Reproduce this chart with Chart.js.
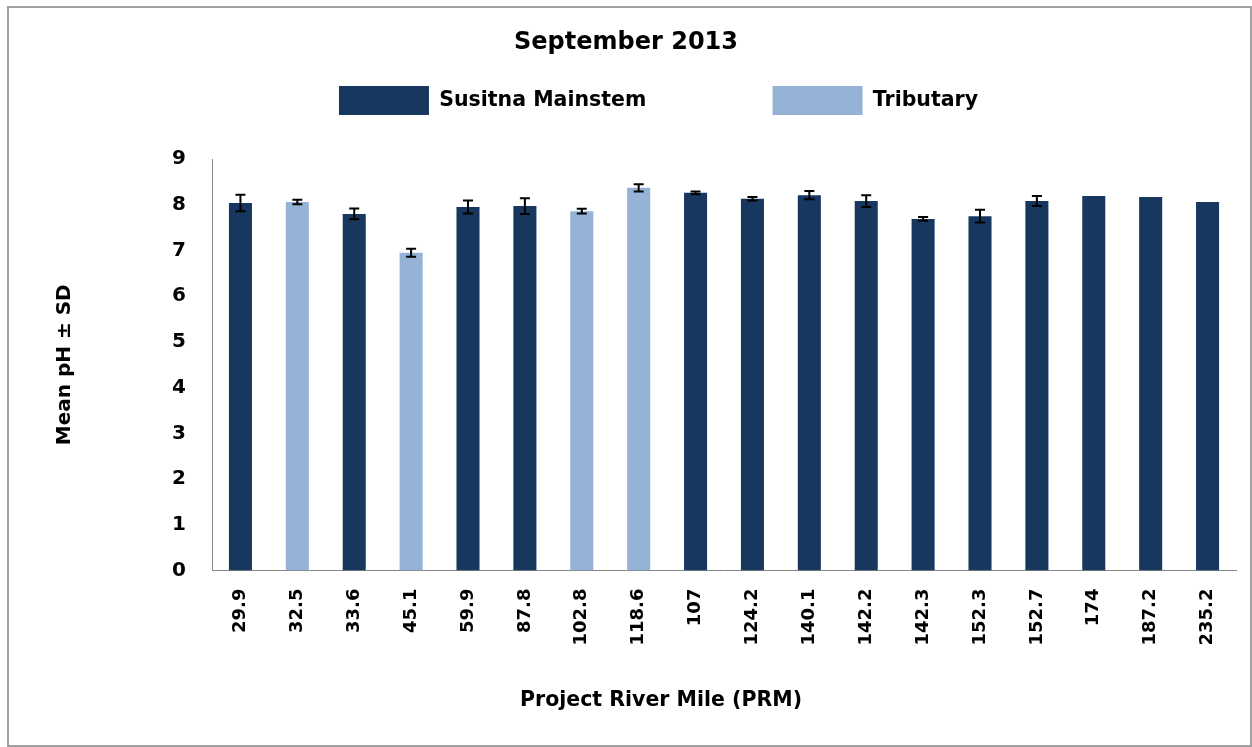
<!DOCTYPE html>
<html>
<head>
<meta charset="utf-8">
<title>September 2013 - Mean pH</title>
<script src="https://cdn.jsdelivr.net/npm/chart.js@4.4.1/dist/chart.umd.min.js"></script>
<style>
  html, body { margin: 0; padding: 0; background: #fff; }
  #wrap { position: relative; width: 1252px; height: 747px; }
  #frame { position: absolute; left: 7px; top: 6px; width: 1241px; height: 737px; border: 2px solid #a0a0a0; box-sizing: content-box; pointer-events: none; }
</style>
</head>
<body>
<div id="wrap">
  <canvas id="chart"></canvas>
  <div id="frame"></div>
</div>
<script>
// river miles, site type (M = mainstem, T = tributary), mean pH and SD
const categories = ['29.9', '32.5', '33.6', '45.1', '59.9', '87.8', '102.8', '118.6', '107',
  '124.2', '140.1', '142.2', '142.3', '152.3', '152.7', '174', '187.2', '235.2'];
const siteType = ['M', 'T', 'M', 'T', 'M', 'M', 'T', 'T', 'M',
  'M', 'M', 'M', 'M', 'M', 'M', 'M', 'M', 'M'];
const meanPh = [8.04, 8.06, 7.80, 6.95, 7.95, 7.97, 7.86, 8.37, 8.26,
  8.13, 8.21, 8.08, 7.69, 7.75, 8.08, 8.19, 8.17, 8.06];
const sdPh = [0.18, 0.05, 0.12, 0.09, 0.14, 0.17, 0.05, 0.08, 0.03,
  0.04, 0.09, 0.13, 0.04, 0.14, 0.11, null, null, null];
const seriesNames = ['Susitna Mainstem', 'Tributary'];
const yTicks = [0, 1, 2, 3, 4, 5, 6, 7, 8, 9];

const NAVY = '#17375E';
const LIGHT = '#95B3D7';
const AXIS_GREY = '#868686';
const LEGEND_SHIFT = 65;
const XTITLE_SHIFT = 70;

Chart.defaults.font.family = "'DejaVu Sans', 'Liberation Sans', sans-serif";
Chart.defaults.font.weight = 'bold';
Chart.defaults.color = '#000';

// SD whiskers, drawn from the scales
const errorBars = {
  id: 'errorBars',
  afterDatasetsDraw(chart) {
    const { ctx, scales: { x, y } } = chart;
    ctx.save();
    ctx.strokeStyle = '#000';
    ctx.lineWidth = 2;
    meanPh.forEach((m, i) => {
      const sd = sdPh[i];
      if (sd == null) return;
      const px = x.getPixelForValue(i);
      const top = y.getPixelForValue(m + sd);
      const bot = y.getPixelForValue(m - sd);
      ctx.beginPath();
      ctx.moveTo(px, top); ctx.lineTo(px, bot);
      ctx.moveTo(px - 5, top); ctx.lineTo(px + 5, top);
      ctx.moveTo(px - 5, bot); ctx.lineTo(px + 5, bot);
      ctx.stroke();
    });
    ctx.restore();
  }
};

// legend and x title sit right of the canvas centre in the original
const shiftBoxes = {
  id: 'shiftBoxes',
  afterLayout(chart) {
    if (chart.legend) chart.legend.left += LEGEND_SHIFT;
    chart.boxes.forEach(b => {
      if (b.position === 'bottom' && !b.axis && b !== chart.legend) b.left += XTITLE_SHIFT;
    });
  }
};

new Chart(document.getElementById('chart'), {
  type: 'bar',
  data: {
    labels: categories,
    datasets: [{
      label: 'Mean pH',
      data: meanPh,
      backgroundColor: siteType.map(t => t === 'M' ? NAVY : LIGHT),
      borderWidth: 0,
      categoryPercentage: 1,
      barPercentage: 0.405
    }]
  },
  options: {
    responsive: true,
    maintainAspectRatio: false,
    animation: false,
    layout: { padding: { left: 0, right: 0, top: 0, bottom: 0 } },
    plugins: {
      title: {
        display: true,
        text: 'September 2013',
        font: { size: 24, weight: 'bold' },
        color: '#000',
        padding: { top: 28.6, bottom: 15.6 }
      },
      subtitle: {
        display: true,
        text: 'Project River Mile (PRM)',
        position: 'bottom',
        weight: 1500,
        font: { size: 20.5, weight: 'bold' },
        color: '#000',
        padding: { top: 5, bottom: 34.4 }
      },
      legend: {
        display: true,
        position: 'top',
        onClick: null,
        labels: {
          boxWidth: 90,
          boxHeight: 29,
          padding: 13,
          color: '#000',
          font: { size: 20.5, weight: 'bold' },
          generateLabels: () => [
            { text: seriesNames[0], fillStyle: NAVY, strokeStyle: NAVY, lineWidth: 0, hidden: false },
            { text: '', fillStyle: 'rgba(0,0,0,0)', strokeStyle: 'rgba(0,0,0,0)', lineWidth: 0, hidden: false },
            { text: seriesNames[1], fillStyle: LIGHT, strokeStyle: LIGHT, lineWidth: 0, hidden: false }
          ]
        }
      },
      tooltip: { enabled: false }
    },
    scales: {
      x: {
        grid: { display: false, drawTicks: false },
        border: { color: AXIS_GREY, width: 1 },
        ticks: {
          autoSkip: false,
          minRotation: 90,
          maxRotation: 90,
          padding: 18,
          color: '#000',
          font: { size: 18, weight: 'bold' }
        },
        afterFit(scale) {
          scale.height = 112.4;
          scale.paddingRight = 16;
        }
      },
      // empty band between the legend and the plot
      xTop: {
        type: 'category',
        position: 'top',
        grid: { display: false, drawTicks: false },
        border: { display: false },
        ticks: { display: false },
        afterFit(scale) {
          scale.height = 34;
        }
      },
      y: {
        min: 0,
        max: 9,
        grid: { display: false, drawTicks: false },
        border: { color: AXIS_GREY, width: 1 },
        afterBuildTicks(scale) {
          scale.ticks = yTicks.map(v => ({ value: v }));
        },
        ticks: {
          padding: 26,
          color: '#000',
          font: { size: 20, weight: 'bold' }
        },
        title: {
          display: true,
          text: 'Mean pH ± SD',
          color: '#000',
          font: { size: 20, weight: 'bold' },
          padding: { top: 53, bottom: 0 }
        },
        afterFit(scale) {
          scale.width = 212;
        }
      }
    }
  },
  plugins: [errorBars, shiftBoxes]
});
</script>
</body>
</html>
